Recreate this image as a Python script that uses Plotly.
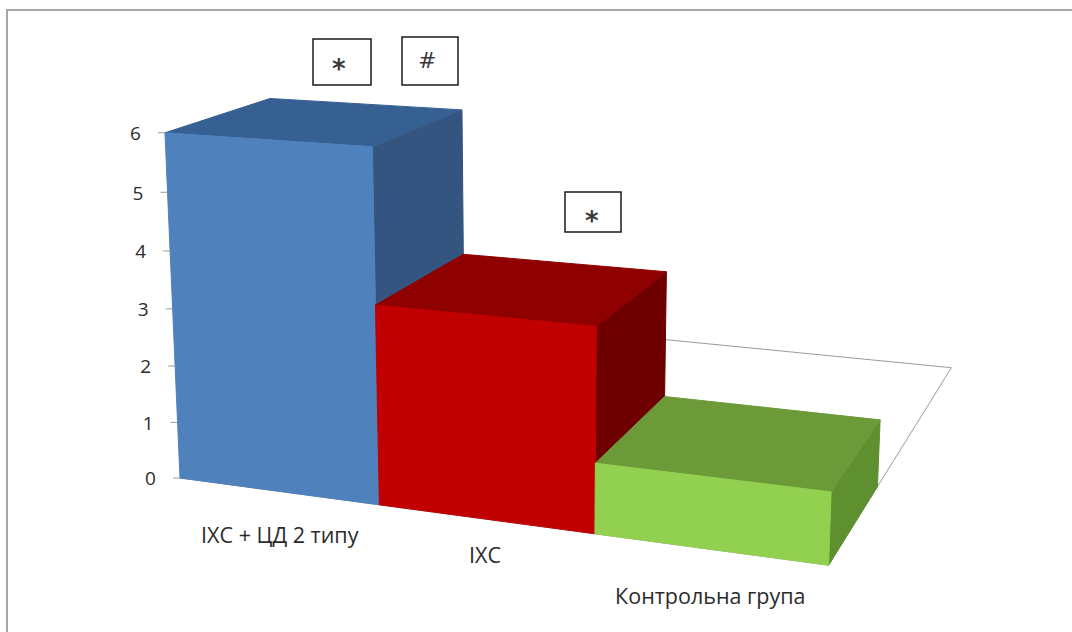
import numpy as np
import plotly.graph_objects as go

# ---- data ----
categories = ["ІХС + ЦД 2 типу", "ІХС", "Контрольна група"]
values = [6.0, 3.41, 1.18]
axis_ticks = [0, 1, 2, 3, 4, 5, 6]
markers = [("*", 0), ("#", 0), ("*", 1)]

# ---- styles ----
front_colors = ["#4F81BD", "#C00000", "#92D050"]
top_colors = ["#376092", "#8F0000", "#6C9A38"]
side_colors = ["#34557F", "#6E0000", "#5F9030"]
FONT = "Open Sans, Noto Sans, sans-serif"
TEXT = "#2b2b2b"

# ---- 3-D chart box seen through a pinhole camera (page pixels) ----
F, CX, CY = 2027.0, 543.0, 270.0
ORIGIN = np.array([-363.0, 208.0, 2027.0])
AX_X = np.array([0.935, 0.082, -0.345])
AX_Y = np.array([0.354, -0.232, 0.906])
AX_Z = np.array([0.0, -0.973, -0.231])
BAR_W, BAR_D, UNIT = 219.8, 212.0, 58.2
WIDTH, HEIGHT = 1072, 632


def project(cat_pos, depth_pos, value):
    """cat_pos in bar widths, depth_pos in bar depths, value in axis units."""
    p = ORIGIN + AX_X * cat_pos * BAR_W + AX_Y * depth_pos * BAR_D + AX_Z * value * UNIT
    return CX + F * p[0] / p[2], CY + F * p[1] / p[2]


def poly(corners, fill, line=None, width=1, name=""):
    pts = [project(*c) for c in corners] + [project(*corners[0])]
    return go.Scatter(
        x=[q[0] for q in pts], y=[q[1] for q in pts], mode="lines",
        fill="toself", fillcolor=fill, name=name, hoverinfo="skip",
        line=dict(color=line or fill, width=width), showlegend=False,
    )


fig = go.Figure()
n = len(categories)
# floor
fig.add_trace(poly([(0, 0, 0), (n, 0, 0), (n, 3, 0), (0, 3, 0)], "#FFFFFF", "#9A9A9A", 1, "floor"))

for i, (cat, v) in enumerate(zip(categories, values)):
    a, b = i, i + 1
    fig.add_trace(poly([(b, 0, 0), (b, 1, 0), (b, 1, v), (b, 0, v)], side_colors[i], name=cat))
    fig.add_trace(poly([(a, 0, v), (b, 0, v), (b, 1, v), (a, 1, v)], top_colors[i], name=cat))
    fig.add_trace(poly([(a, 0, 0), (b, 0, 0), (b, 0, v), (a, 0, v)], front_colors[i], name=cat))

# value-axis ticks and labels
tx, ty = zip(*[project(0, 0, t) for t in axis_ticks])
for x0, y0, t in zip(tx, ty, axis_ticks):
    fig.add_trace(go.Scatter(x=[x0 - 7, x0], y=[y0, y0], mode="lines", hoverinfo="skip",
                             line=dict(color="#9A9A9A", width=1), showlegend=False))
fig.add_trace(go.Scatter(x=[x - 29.5 for x in tx], y=[y + 2.5 for y in ty], mode="text",
                         text=[str(t) for t in axis_ticks], hoverinfo="skip", showlegend=False,
                         textfont=dict(family=FONT, size=19, color=TEXT)))

# category labels
label_xy = [project(i + 0.5, 0, 0) for i in range(n)]
label_offset = [(2, 46), (0, 39), (1, 49)]
fig.add_trace(go.Scatter(
    x=[q[0] + o[0] for q, o in zip(label_xy, label_offset)],
    y=[q[1] + o[1] for q, o in zip(label_xy, label_offset)],
    mode="text", text=categories, hoverinfo="skip", showlegend=False,
    textfont=dict(family=FONT, size=21.5, color=TEXT)))

# significance boxes
boxes = [(313, 39, 371, 85), (402, 37, 458, 85), (565, 192, 621, 232)]
shapes = [dict(type="rect", x0=x0, y0=y0, x1=x1, y1=y1, xref="x", yref="y",
               line=dict(color="#1a1a1a", width=1.5), fillcolor="#FFFFFF")
          for x0, y0, x1, y1 in boxes]
# chart frame: only the top and left edges fall inside the picture
shapes.append(dict(type="path", path=f"M 7 {HEIGHT} L 7 10 L {WIDTH} 10", xref="x", yref="y", layer="below",
                   line=dict(color="#A6A6A6", width=2)))
annos = [dict(x=(b[0] + b[2]) / 2 - dx, y=(b[1] + b[3]) / 2 + dy, text=m[0], showarrow=False, xref="x", yref="y",
              font=dict(family="DejaVu Sans, sans-serif", size=fs, color="#3a3a3a", weight=w))
         for b, m, dx, dy, fs, w in zip(boxes, markers, (3, 3, 1), (7, -1, 9),
                                        (26, 22, 26), (700, 400, 700))]

fig.update_layout(
    width=WIDTH, height=HEIGHT,
    margin=dict(l=0, r=0, t=0, b=0),
    paper_bgcolor="#FFFFFF", plot_bgcolor="#FFFFFF",
    xaxis=dict(range=[0, WIDTH], visible=False, fixedrange=True),
    yaxis=dict(range=[HEIGHT, 0], visible=False, fixedrange=True),
    shapes=shapes, annotations=annos, showlegend=False,
)
fig.write_html("out.html", config={"displayModeBar": False},
               post_script="document.body.style.margin='0';document.documentElement.style.overflow='hidden';")
